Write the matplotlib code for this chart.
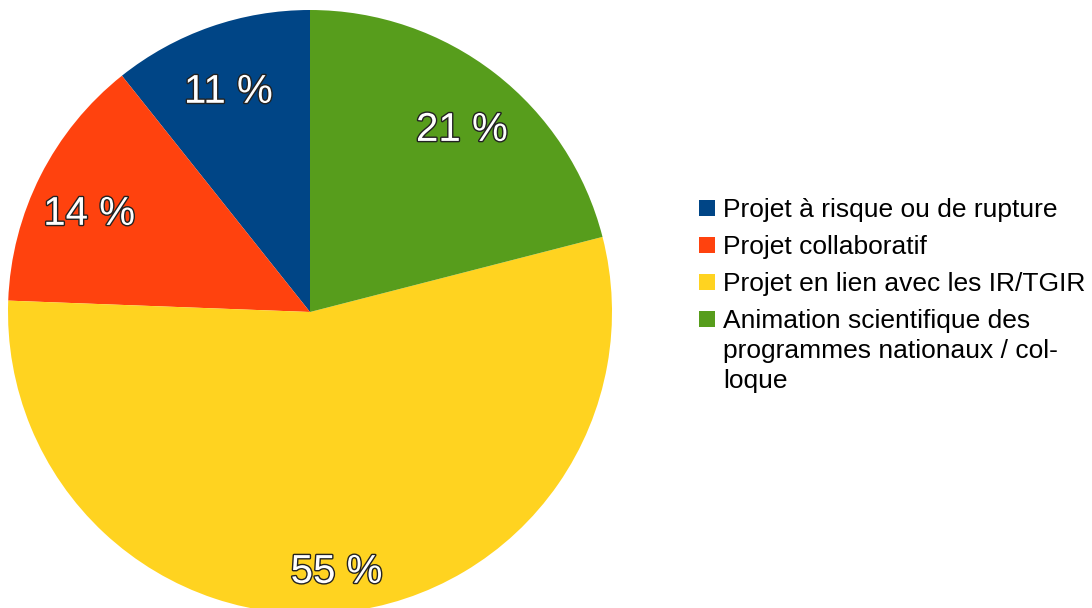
import numpy as np
import matplotlib
matplotlib.use("Agg")
import matplotlib.pyplot as plt
import matplotlib.patheffects as pe
from matplotlib.patches import Rectangle

plt.rcParams['font.family'] = ['Liberation Sans', 'DejaVu Sans']

categories = ["Projet à risque ou de rupture",
              "Projet collaboratif",
              "Projet en lien avec les IR/TGIR",
              "Animation scientifique des\nprogrammes nationaux / col-\nloque"]
values = [10.7, 13.7, 54.6, 21.0]
colors = ["#004586", "#ff420e", "#ffd320", "#579d1c"]

W, H = 1092, 608
fig = plt.figure(figsize=(W / 100, H / 100), dpi=100)
# pie centre at (310, 312) px, radius 302 px
ax = fig.add_axes([8 / W, -6 / H, 604 / W, 604 / H])

wedges, texts = ax.pie(values, colors=colors, startangle=90, radius=1.0,
                       wedgeprops=dict(linewidth=0))

# percentage labels, white with dark outline
total = sum(values)
for w, v in zip(wedges, values):
    mid = np.deg2rad((w.theta1 + w.theta2) / 2)
    x = 0.82 * np.cos(mid)
    y = 0.82 * np.sin(mid) - 0.045
    ax.text(x, y, "%.0f %%" % (100 * v / total), ha="center", va="center",
            fontsize=29, color="white",
            path_effects=[pe.withStroke(linewidth=2, foreground="#222222")])

ax.set_xlim(-1, 1)
ax.set_ylim(-1, 1)
ax.axis("off")

# legend drawn by hand (LibreOffice style), one text per line
y0, step, line_h = 207.5, 37.3, 30
for i, (c, lab) in enumerate(zip(colors, categories)):
    yc = y0 + step * i
    fig.patches.append(Rectangle((699 / W, 1 - (yc + 8) / H), 16 / W, 16 / H,
                                 facecolor=c, edgecolor="none",
                                 transform=fig.transFigure, figure=fig))
    for k, line in enumerate(lab.split("\n")):
        base = yc + 9 + k * line_h
        fig.text(723 / W, 1 - base / H, line, fontsize=19, va="baseline",
                 ha="left")

fig.savefig("out.png", dpi=100)
